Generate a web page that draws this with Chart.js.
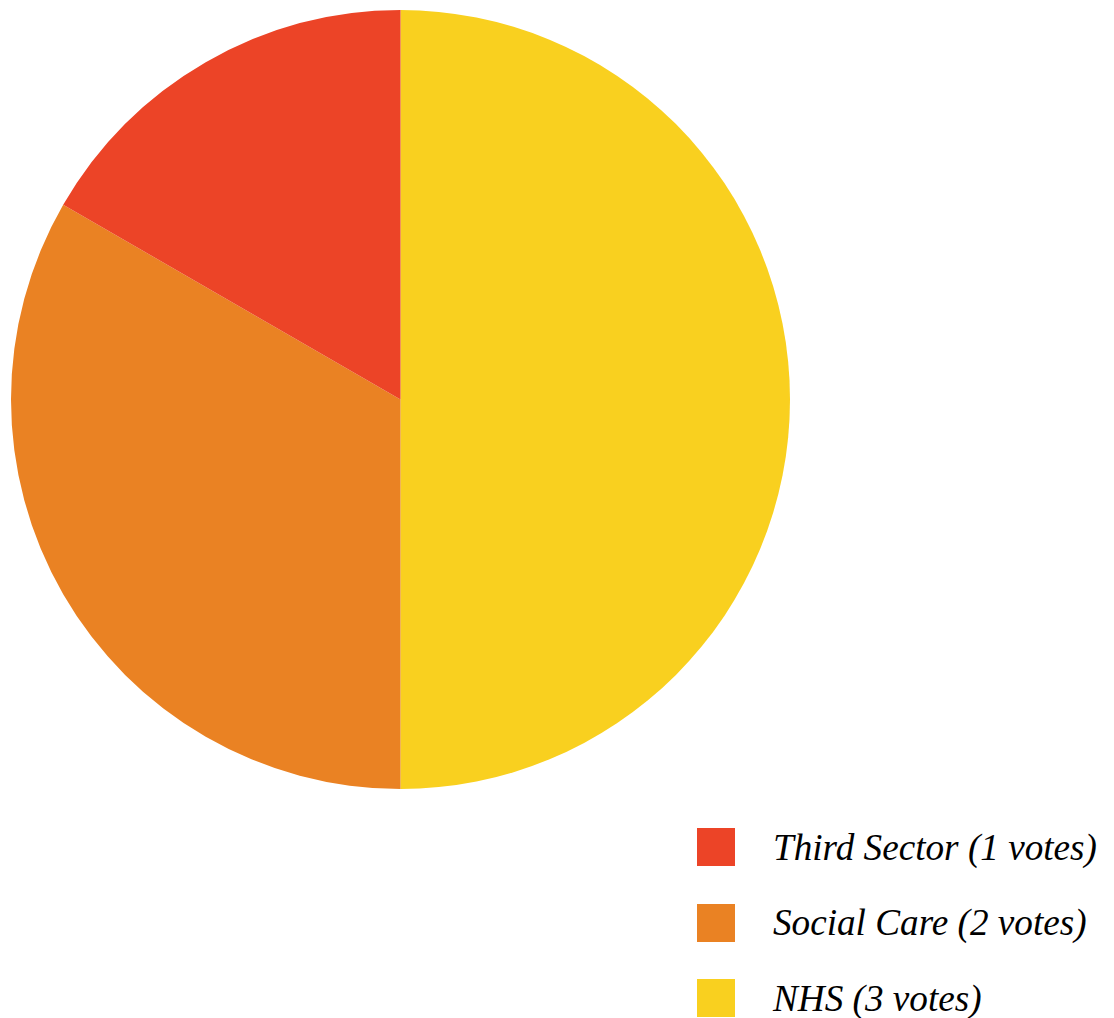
<!DOCTYPE html>
<html>
<head>
<meta charset="utf-8">
<script src="https://cdn.jsdelivr.net/npm/chart.js@4"></script>
<style>
  html, body { margin: 0; padding: 0; background: #fff; }
  #wrap { position: relative; width: 1114px; height: 1018px; }
  #pieChart { position: absolute; left: 0; top: 0; }
  #legend {
    position: absolute; left: 697px; top: 828px;
    font-family: "Liberation Serif", "Times New Roman", serif;
    font-style: italic; font-size: 37.2px; color: #000;
  }
  .item { display: flex; align-items: center; height: 38px; margin-bottom: 37.5px; white-space: nowrap; }
  .box { width: 38px; height: 38px; margin-right: 38px; flex: none; }
</style>
</head>
<body>
<div id="wrap">
  <canvas id="pieChart" width="801" height="799"></canvas>
  <div id="legend"></div>
</div>
<script>
const labels = ["NHS", "Social Care", "Third Sector"];
const votes = [3, 2, 1];
const colors = ["#F9D01F", "#EA8223", "#EC4427"];

const pieChart = new Chart(document.getElementById("pieChart"), {
  type: "pie",
  data: {
    labels: labels,
    datasets: [
      {
        data: votes,
        backgroundColor: colors,
        borderWidth: 0
      }
    ]
  },
  options: {
    responsive: false,
    animation: false,
    layout: { padding: 10 },
    plugins: {
      legend: { display: false },
      tooltip: { enabled: false }
    }
  }
});

// legend below the pie, listed in reverse order
const legendEl = document.getElementById("legend");
for (let i = labels.length - 1; i >= 0; i--) {
  const item = document.createElement("div");
  item.className = "item";
  const box = document.createElement("span");
  box.className = "box";
  box.style.background = colors[i];
  const text = document.createElement("span");
  text.textContent = `${labels[i]} (${votes[i]} votes)`;
  item.appendChild(box);
  item.appendChild(text);
  legendEl.appendChild(item);
}
</script>
</body>
</html>
